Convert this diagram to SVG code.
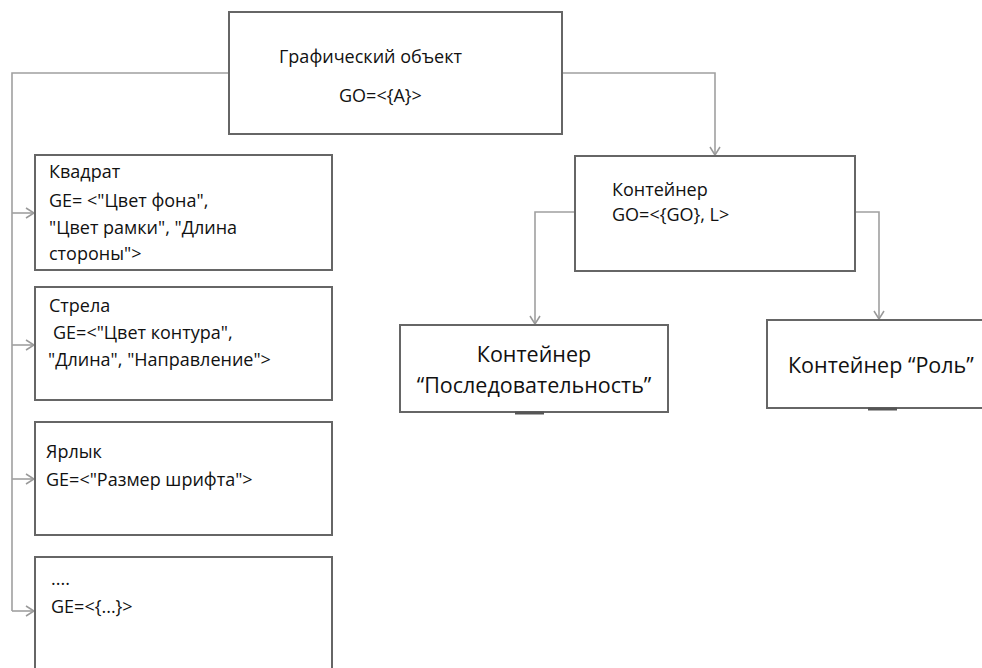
<svg xmlns="http://www.w3.org/2000/svg" width="982" height="668" viewBox="0 0 982 668">
  <defs>
    <marker id="arr" markerWidth="12" markerHeight="12" refX="10" refY="6" orient="auto" markerUnits="userSpaceOnUse">
      <path d="M2,1 L10,6 L2,11" fill="none" stroke="#999" stroke-width="1.5"/>
    </marker>
  </defs>
  <style>
    .box { fill: #fff; stroke: #666; stroke-width: 2; }
    .link { fill: none; stroke: #a0a0a0; stroke-width: 1.6; }
    .t { font-family: "Open Sans", "Liberation Sans", sans-serif; font-size: 18px; fill: #111; }
    .big { font-size: 21.5px; }
    .mark { stroke: #555; stroke-width: 3; }
  </style>
  <rect width="982" height="668" fill="#fff"/>

  <!-- connectors -->
  <g id="connectors">
    <path class="link" d="M229,73 H12 V611"/>
    <path class="link" d="M12,213 H34" marker-end="url(#arr)"/>
    <path class="link" d="M12,345 H34" marker-end="url(#arr)"/>
    <path class="link" d="M12,479 H34" marker-end="url(#arr)"/>
    <path class="link" d="M12,611 H34" marker-end="url(#arr)"/>
    <path class="link" d="M562,73 H715 V155" marker-end="url(#arr)"/>
    <path class="link" d="M575,212 H535 V324" marker-end="url(#arr)"/>
    <path class="link" d="M855,212 H879 V319" marker-end="url(#arr)"/>
  </g>

  <g id="graphic-object">
    <rect class="box" x="229" y="12" width="333" height="122"/>
    <text class="t" x="279" y="63">Графический объект</text>
    <text class="t" x="339" y="102">GO=&lt;{A}&gt;</text>
  </g>

  <g id="square">
    <rect class="box" x="35" y="155" width="297" height="115"/>
    <text class="t" x="49" y="178">Квадрат</text>
    <text class="t" x="49" y="207">GE= &lt;"Цвет фона",</text>
    <text class="t" x="49" y="234">"Цвет рамки", "Длина</text>
    <text class="t" x="49" y="260">стороны"&gt;</text>
  </g>

  <g id="arrow-shape">
    <rect class="box" x="35" y="287" width="297" height="113"/>
    <text class="t" x="49" y="312">Стрела</text>
    <text class="t" x="53" y="339">GE=&lt;"Цвет контура",</text>
    <text class="t" x="48" y="366">"Длина", "Направление"&gt;</text>
  </g>

  <g id="label">
    <rect class="box" x="35" y="422" width="297" height="113"/>
    <text class="t" x="46" y="458">Ярлык</text>
    <text class="t" x="46" y="486">GE=&lt;"Размер шрифта"&gt;</text>
  </g>

  <g id="other">
    <rect class="box" x="35" y="557" width="297" height="120"/>
    <text class="t" x="51" y="585">....</text>
    <text class="t" x="51" y="613">GE=&lt;{...}&gt;</text>
  </g>

  <g id="container">
    <rect class="box" x="575" y="156" width="280" height="115"/>
    <text class="t" x="612" y="196">Контейнер</text>
    <text class="t" x="612" y="221">GO=&lt;{GO}, L&gt;</text>
  </g>

  <g id="sequence">
    <rect class="box" x="400" y="325" width="268" height="87"/>
    <text class="t big" x="534" y="362" text-anchor="middle">Контейнер</text>
    <text class="t big" x="534" y="393" text-anchor="middle">“Последовательность”</text>
    <line class="mark" x1="515" y1="413" x2="544" y2="413"/>
  </g>

  <g id="role">
    <rect class="box" x="767" y="320" width="220" height="88"/>
    <text class="t big" x="788" y="373">Контейнер “Роль”</text>
    <line class="mark" x1="868" y1="409" x2="897" y2="409"/>
  </g>
</svg>
